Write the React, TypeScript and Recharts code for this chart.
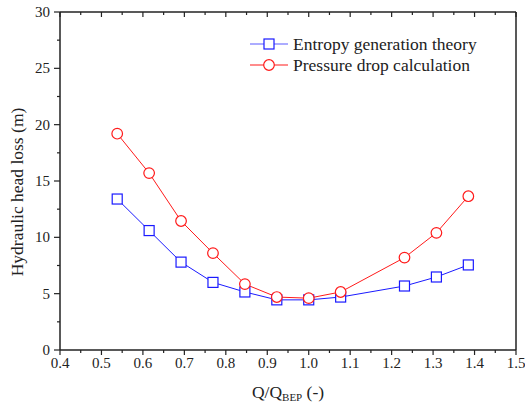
import { LineChart, Line, XAxis, YAxis } from "recharts";

const qRatio = [0.538, 0.615, 0.692, 0.769, 0.846, 0.923, 1.0, 1.077, 1.231, 1.308, 1.385];
const entropyLoss = [13.4, 10.6, 7.8, 6.0, 5.15, 4.45, 4.45, 4.7, 5.68, 6.48, 7.55];
const pressureLoss = [19.2, 15.7, 11.45, 8.6, 5.85, 4.7, 4.6, 5.15, 8.2, 10.4, 13.65];

const xTicks = [0.4, 0.45, 0.5, 0.55, 0.6, 0.65, 0.7, 0.75, 0.8, 0.85, 0.9, 0.95, 1.0, 1.05, 1.1, 1.15, 1.2, 1.25, 1.3, 1.35, 1.4, 1.45, 1.5];
const yTicks = [0, 2.5, 5, 7.5, 10, 12.5, 15, 17.5, 20, 22.5, 25, 27.5, 30];

const data = qRatio.map((q, i) => ({
  q,
  entropy: entropyLoss[i],
  pressure: pressureLoss[i],
}));

const FONT = "Liberation Serif";
const AXIS = "#222";

const isMajorX = (v: number) => Math.round(v * 100) % 10 === 0;
const isMajorY = (v: number) => Math.round(v * 10) % 50 === 0;

const BottomTick = ({ x, y, payload }: any) => {
  const major = isMajorX(payload.value);
  return (
    <g>
      <line x1={x} x2={x} y1={y} y2={y + (major ? 5 : 3)} stroke={AXIS} strokeWidth={1.2} />
      {major && (
        <text x={x} y={y + 18} textAnchor="middle" fontSize={15} style={{ fontFamily: FONT }} fill="#222">
          {payload.value.toFixed(1)}
        </text>
      )}
    </g>
  );
};

const LeftTick = ({ x, y, payload }: any) => {
  const major = isMajorY(payload.value);
  return (
    <g>
      <line x1={x} x2={x - (major ? 6 : 3)} y1={y} y2={y} stroke={AXIS} strokeWidth={1.2} />
      {major && (
        <text x={x - 10} y={y + 5} textAnchor="end" fontSize={15} style={{ fontFamily: FONT }} fill="#222">
          {payload.value}
        </text>
      )}
    </g>
  );
};

const TopTick = ({ x, y, payload }: any) => {
  const major = isMajorX(payload.value);
  return <line x1={x} x2={x} y1={y} y2={y + (major ? 5 : 3)} stroke={AXIS} strokeWidth={1.2} />;
};

const RightTick = ({ x, y, payload }: any) => {
  const major = isMajorY(payload.value);
  return <line x1={x} x2={x - (major ? 5 : 3)} y1={y} y2={y} stroke={AXIS} strokeWidth={1.2} />;
};

const SquareDot = ({ cx, cy, index }: any) => (
  <rect key={`s${index}`} x={cx - 5} y={cy - 5} width={10} height={10} fill="#fff" stroke="#1a1aff" strokeWidth={1.2} />
);

const CircleDot = ({ cx, cy, index }: any) => (
  <circle key={`c${index}`} cx={cx} cy={cy} r={5.3} fill="#fff" stroke="#ff1a1a" strokeWidth={1.2} />
);

const LegendBox = () => (
  <svg width={260} height={46} style={{ position: "absolute", left: 245, top: 32, fontFamily: FONT }}>
    <line x1={5} x2={43} y1={12} y2={12} stroke="#5a5aff" strokeWidth={1.2} />
    <rect x={19} y={7} width={10} height={10} fill="#fff" stroke="#1a1aff" strokeWidth={1.2} />
    <text x={48} y={18} fontSize={17.5} fill="#222">Entropy generation theory</text>
    <line x1={5} x2={43} y1={33} y2={33} stroke="#ff1a1a" strokeWidth={1.2} />
    <circle cx={24} cy={33} r={5.3} fill="#fff" stroke="#ff1a1a" strokeWidth={1.2} />
    <text x={48} y={39} fontSize={17.5} fill="#222">Pressure drop calculation</text>
  </svg>
);

export default function App() {
  return (
    <div style={{ position: "absolute", left: 0, top: 0, width: 525, height: 414, background: "#fff", fontFamily: FONT }}>
      <LineChart width={525} height={414} data={data} margin={{ top: 0, right: 0, bottom: 0, left: 0 }}>
        <XAxis
          xAxisId="b"
          dataKey="q"
          type="number"
          domain={[0.4, 1.5]}
          ticks={xTicks}
          interval={0}
          height={64}
          tickSize={0}
          tickMargin={0}
          tickLine={false}
          tick={<BottomTick />}
          stroke={AXIS}
          strokeWidth={1.5}
          label={{
            content: () => (
              <text x={288} y={398} textAnchor="middle" fontSize={17.5} style={{ fontFamily: FONT }} fill="#222">
                Q/Q
                <tspan fontSize={11} dy={3}>BEP</tspan>
                <tspan dy={-3}> (-)</tspan>
              </text>
            ),
          }}
        />
        <XAxis
          xAxisId="t"
          dataKey="q"
          type="number"
          orientation="top"
          domain={[0.4, 1.5]}
          ticks={xTicks}
          interval={0}
          height={12}
          tickSize={0}
          tickMargin={0}
          tickLine={false}
          tick={<TopTick />}
          stroke={AXIS}
          strokeWidth={1.5}
        />
        <YAxis
          yAxisId="l"
          type="number"
          domain={[0, 30]}
          ticks={yTicks}
          interval={0}
          width={60}
          tickSize={0}
          tickMargin={0}
          tickLine={false}
          tick={<LeftTick />}
          stroke={AXIS}
          strokeWidth={1.5}
          label={{
            content: () => (
              <text
                x={0}
                y={0}
                transform="translate(23,192) rotate(-90)"
                textAnchor="middle"
                fontSize={17.5}
                style={{ fontFamily: FONT }}
                fill="#222"
              >
                Hydraulic head loss (m)
              </text>
            ),
          }}
        />
        <YAxis
          yAxisId="r"
          orientation="right"
          type="number"
          domain={[0, 30]}
          ticks={yTicks}
          interval={0}
          width={9}
          tickSize={0}
          tickMargin={0}
          tickLine={false}
          tick={<RightTick />}
          stroke={AXIS}
          strokeWidth={1.5}
        />
        <Line
          xAxisId="b"
          yAxisId="l"
          dataKey="entropy"
          name="Entropy generation theory"
          stroke="#1a1aff"
          strokeWidth={1}
          dot={<SquareDot />}
          activeDot={false}
          isAnimationActive={false}
        />
        <Line
          xAxisId="b"
          yAxisId="l"
          dataKey="pressure"
          name="Pressure drop calculation"
          stroke="#ff1a1a"
          strokeWidth={1}
          dot={<CircleDot />}
          activeDot={false}
          isAnimationActive={false}
        />
      </LineChart>
      <LegendBox />
    </div>
  );
}
